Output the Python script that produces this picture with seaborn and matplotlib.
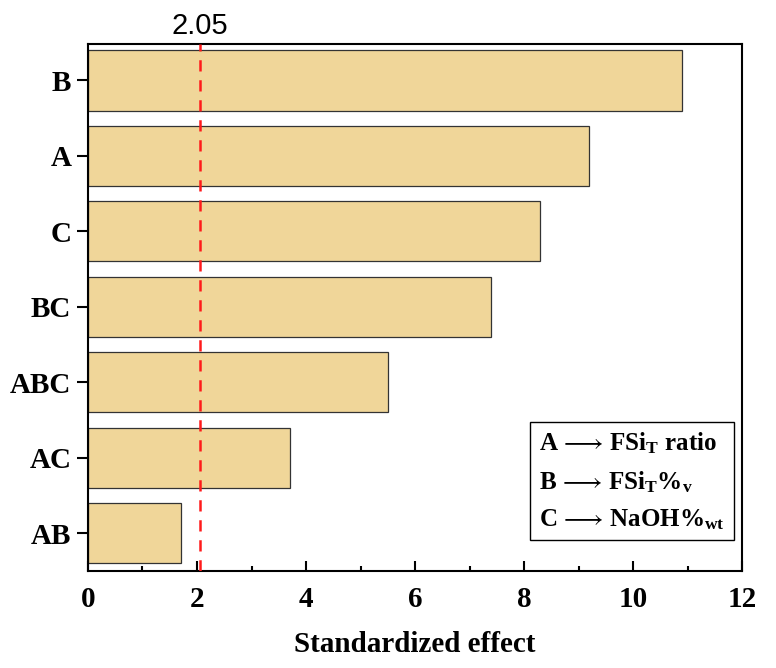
import matplotlib
matplotlib.use("Agg")
import matplotlib.pyplot as plt
import seaborn as sns
import pandas as pd
from matplotlib.ticker import MultipleLocator
from matplotlib.patches import Rectangle

sns.set_style("ticks")
plt.rcParams['font.family'] = ['Liberation Serif', 'DejaVu Serif']
plt.rcParams['mathtext.default'] = 'regular'
plt.rcParams['mathtext.fontset'] = 'stix'
plt.rcParams['text.color'] = 'black'
plt.rcParams['xtick.color'] = 'black'
plt.rcParams['ytick.color'] = 'black'
plt.rcParams['axes.labelcolor'] = 'black'

# data
terms = ['B', 'A', 'C', 'BC', 'ABC', 'AC', 'AB']
effects = [10.9, 9.2, 8.3, 7.4, 5.5, 3.7, 1.7]
t_crit = 2.05
legend_lines = [r'A$\,\longrightarrow\,$FSi$_T$ ratio',
                r'B$\,\longrightarrow\,$FSi$_T$%$_v$',
                r'C$\,\longrightarrow\,$NaOH%$_{wt}$']

df = pd.DataFrame({'term': terms, 'effect': effects})

fig = plt.figure(figsize=(7.76, 6.68), dpi=100)
ax = fig.add_axes([0.1134, 0.1452, 0.8428, 0.7888])

sns.barplot(data=df, x='effect', y='term', orient='h', color='#F0D699',
            edgecolor='#333333', linewidth=0.9, width=0.8, saturation=1, ax=ax)

ax.axvline(t_crit, color='#FF1A1A', lw=1.8, ls=(0, (4.5, 3.5)), zorder=3)
ax.text(t_crit, 1.008, f'{t_crit:.2f}', transform=ax.get_xaxis_transform(),
        ha='center', va='bottom', fontsize=21, family=['Liberation Sans', 'DejaVu Sans'])

ax.set_xlim(0, 12)
ax.set_ylim(6.5, -0.48)
ax.xaxis.set_major_locator(MultipleLocator(2))
ax.xaxis.set_minor_locator(MultipleLocator(1))
ax.tick_params(axis='x', which='major', direction='in', length=7, width=1.5,
               labelsize=21, pad=11)
ax.tick_params(axis='x', which='minor', direction='in', length=3.5, width=1.5)
ax.tick_params(axis='y', which='major', direction='out', length=8, width=1.5,
               labelsize=21, pad=4)
for lab in ax.get_xticklabels() + ax.get_yticklabels():
    lab.set_fontweight('bold')
for sp in ax.spines.values():
    sp.set_visible(True)
    sp.set_linewidth(1.5)
    sp.set_color('black')

ax.set_xlabel('Standardized effect', fontsize=21, fontweight='bold', labelpad=13)
ax.set_ylabel('')

handles = [Rectangle((0, 0), 0, 0, visible=False) for _ in legend_lines]
leg = ax.legend(handles, legend_lines, loc='lower right', bbox_to_anchor=(0.987, 0.058),
                borderaxespad=0, handlelength=0, handletextpad=0, fancybox=False,
                framealpha=1, edgecolor='black', borderpad=0.35, labelspacing=0.5,
                prop={'size': 18, 'weight': 'bold'})
leg.get_frame().set_linewidth(1.0)

fig.savefig('out.png', dpi=100)
